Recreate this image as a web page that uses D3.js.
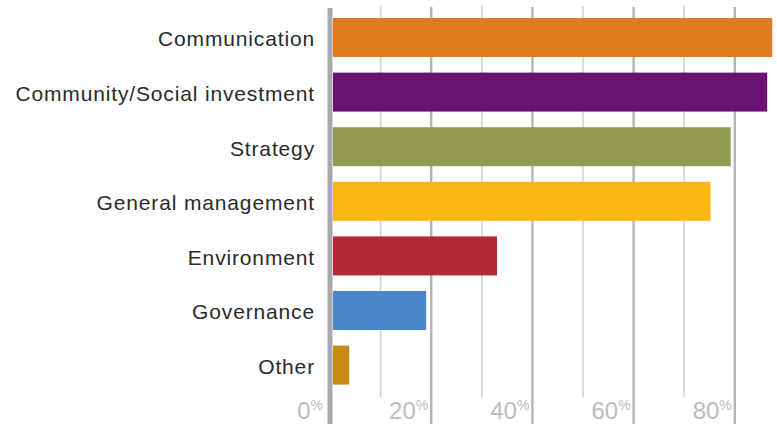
<!DOCTYPE html>
<html>
<head>
  <title>Functions bar chart</title>
  <script src="https://d3js.org/d3.v7.min.js"></script>
  <style>
    body { margin: 0; background: #fff; }
    svg text { font-family: "Liberation Sans", Arial, Helvetica, sans-serif; }
    .cat { fill: #2a2a2a; font-size: 21px; letter-spacing: 0.85px; text-anchor: end; }
    .tick-label { fill: #bcbcbc; font-size: 24px; text-anchor: end; }
  </style>
</head>
<body>
  <script>
    var categories = ["Communication", "Community/Social investment", "Strategy",
                      "General management", "Environment", "Governance", "Other"];
    var values = [87.4, 86.4, 79.2, 75.2, 33, 19, 3.8];
    var colors = ["#df7a1e", "#6b1370", "#949b50", "#fcb716", "#b12a35", "#4a86c8", "#c78a13"];
    var majorTicks = [0, 20, 40, 60, 80];
    var minorTicks = [10, 30, 50, 70, 90];

    var width = 777, height = 424;

    var svg = d3.select("body").append("svg")
      .attr("width", width)
      .attr("height", height);

    var x = d3.scaleLinear().domain([0, 100]).range([330, 836]);
    var y = d3.scaleBand()
      .domain(categories)
      .range([10.2, 392.4])
      .paddingInner(0.286)
      .paddingOuter(0.143);

    // minor grid lines
    svg.selectAll("line.minor")
      .data(minorTicks)
      .enter().append("line")
      .attr("class", "minor")
      .attr("x1", function(d) { return x(d); })
      .attr("x2", function(d) { return x(d); })
      .attr("y1", 6)
      .attr("y2", 397)
      .style("stroke", "#d2d2d2")
      .style("stroke-width", 1.6);

    // major grid lines
    svg.selectAll("line.major")
      .data(majorTicks.slice(1))
      .enter().append("line")
      .attr("class", "major")
      .attr("x1", function(d) { return x(d); })
      .attr("x2", function(d) { return x(d); })
      .attr("y1", 7)
      .attr("y2", height)
      .style("stroke", "#b4b4b8")
      .style("stroke-width", 2.4);

    // bars
    svg.selectAll("rect.bar")
      .data(values)
      .enter().append("rect")
      .attr("class", "bar")
      .attr("x", x(0) + 3)
      .attr("y", function(d, i) { return y(categories[i]); })
      .attr("width", function(d) { return x(d) - x(0) - 3; })
      .attr("height", y.bandwidth())
      .style("fill", function(d, i) { return colors[i]; });

    // vertical axis line
    svg.append("line")
      .attr("x1", x(0)).attr("x2", x(0))
      .attr("y1", 8).attr("y2", height)
      .style("stroke", "#a9a9ad")
      .style("stroke-width", 5);

    // category labels
    svg.selectAll("text.cat")
      .data(categories)
      .enter().append("text")
      .attr("class", "cat")
      .attr("x", 315)
      .attr("y", function(d) { return y(d) + y.bandwidth() / 2; })
      .attr("dy", "0.42em")
      .text(function(d) { return d; });

    // tick labels
    var tl = svg.selectAll("text.tick-label")
      .data(majorTicks)
      .enter().append("text")
      .attr("class", "tick-label")
      .attr("x", function(d) { return x(d) - (d === 0 ? 7 : 3); })
      .attr("y", 419);
    tl.append("tspan").text(function(d) { return d; });
    tl.append("tspan")
      .attr("dy", -9)
      .style("font-size", "14px")
      .text("%");
  </script>
</body>
</html>
